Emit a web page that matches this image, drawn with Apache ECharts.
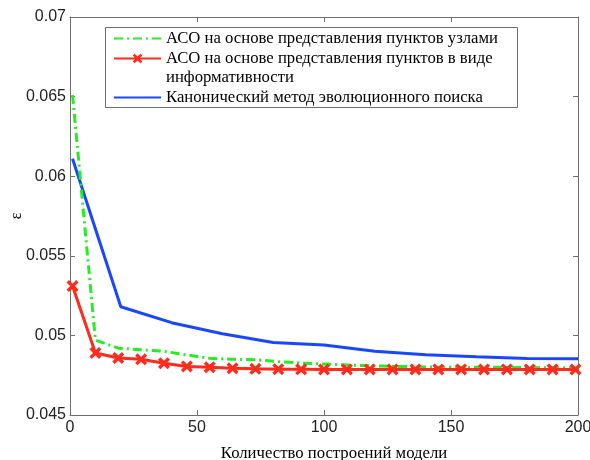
<!DOCTYPE html>
<html>
<head>
<meta charset="utf-8">
<script src="https://cdn.jsdelivr.net/npm/echarts@6/dist/echarts.min.js"></script>
<style>html,body{margin:0;padding:0;background:#fff;}#c{width:590px;height:460px;}</style>
</head>
<body>
<div id="c"></div>
<script>
// ---- data ----
const seriesNames = [
  'АСО на основе представления пунктов узлами',
  'АСО на основе представления пунктов в виде информативности',
  'Канонический метод эволюционного поиска'
];
const acoX = [1,10,19,28,37,46,55,64,73,82,91,100,109,118,127,136,145,154,163,172,181,190,199];
const greenY = [0.0651,0.0497,0.0492,0.0491,0.0490,0.04877,0.04856,0.0485,0.04847,0.04835,0.04826,0.0482,0.04814,0.0481,0.04806,0.04803,0.0480,0.0480,0.0480,0.04799,0.04798,0.04797,0.04797];
const redY = [0.0531,0.0489,0.04858,0.0485,0.04825,0.04805,0.0480,0.04793,0.0479,0.04788,0.04787,0.04786,0.04786,0.04786,0.04786,0.04786,0.04786,0.04786,0.04786,0.04786,0.04786,0.04786,0.04786];
const blueX = [1,20,40,60,80,100,120,140,160,180,200];
const blueY = [0.0611,0.0518,0.0508,0.0501,0.04955,0.0494,0.0490,0.04878,0.04866,0.04855,0.04853];
const xTicks = {min: 0, max: 200, step: 50};
const yTicks = {min: 0.045, max: 0.07, step: 0.005};
const xTitle = 'Количество построений модели';
const yTitle = 'ε';

const zip = (xs, ys) => xs.map((x, i) => [x, ys[i]]);
const GREEN = '#22EE22', RED = '#FF2B1C', BLUE = '#1947FF', AX = '#6e6e6e';
const tickFont = {fontFamily: 'Liberation Sans', fontSize: 16, color: '#222'};
const serif = 'Liberation Serif';
const XPATH = 'path://M2,0 L5,3 L8,0 L10,2 L7,5 L10,8 L8,10 L5,7 L2,10 L0,8 L3,5 L0,2 Z';
const NB = '\u00a0';
const hideSym = {color: 'rgba(0,0,0,0)', borderColor: 'rgba(0,0,0,0)', borderWidth: 0};

const chart = echarts.init(document.getElementById('c'), null, {renderer: 'canvas'});
const baseAxis = {
  axisLine: {show: true, onZero: false, lineStyle: {color: AX, width: 1}},
  axisTick: {show: true, inside: true, length: 5, lineStyle: {color: AX}},
  splitLine: {show: false}
};
chart.setOption({
  animation: false,
  backgroundColor: '#fff',
  grid: {left: 70, right: 12, top: 17, bottom: 45, containLabel: false, outerBoundsMode: 'none'},
  graphic: [{
    type: 'rect', z: 0, left: 105, top: 27,
    shape: {width: 412, height: 80},
    style: {fill: '#fff', stroke: AX, lineWidth: 1}
  }],
  legend: {
    orient: 'vertical', left: 113, top: 29, padding: 0, itemGap: -18,
    itemWidth: 47, itemHeight: 12, z: 10,
    textStyle: {fontFamily: serif, fontSize: 16.7, color: '#000', lineHeight: 19},
    data: [
      {name: seriesNames[0], itemStyle: hideSym},
      {name: seriesNames[1]},
      {name: seriesNames[2], itemStyle: hideSym}
    ],
    formatter: function (n) {
      if (n === seriesNames[1]) return NB + '\nАСО на основе представления пунктов в виде\nинформативности';
      if (n === seriesNames[2]) return NB + '\n' + n + '\n' + NB;
      return n;
    }
  },
  xAxis: [
    Object.assign({}, baseAxis, {
      type: 'value', position: 'bottom', min: xTicks.min, max: xTicks.max, interval: xTicks.step,
      axisLabel: Object.assign({margin: 5}, tickFont),
      name: xTitle, nameLocation: 'middle', nameGap: 30, nameMoveOverlap: false,
      nameTextStyle: {fontFamily: serif, fontSize: 16.7, color: '#000', padding: [0, 0, 0, 20]}
    }),
    Object.assign({}, baseAxis, {
      type: 'value', position: 'top', min: xTicks.min, max: xTicks.max, interval: xTicks.step,
      axisLabel: {show: false}
    })
  ],
  yAxis: [
    Object.assign({}, baseAxis, {
      type: 'value', position: 'left', min: yTicks.min, max: yTicks.max, interval: yTicks.step,
      axisLabel: Object.assign({margin: 4, formatter: v => String(+v.toFixed(3)), padding: [7, 0, 0, 0]}, tickFont),
      name: yTitle, nameLocation: 'middle', nameRotate: 90, nameGap: 45, nameMoveOverlap: false,
      nameTextStyle: {fontFamily: serif, fontSize: 16, color: '#000'}
    }),
    Object.assign({}, baseAxis, {
      type: 'value', position: 'right', min: yTicks.min, max: yTicks.max, interval: yTicks.step,
      axisLabel: {show: false}
    })
  ],
  series: [
    {
      name: seriesNames[0], type: 'line', data: zip(acoX, greenY),
      symbol: 'none', showSymbol: false, z: 3,
      lineStyle: {color: GREEN, width: 3, type: [9, 4, 2, 4]}, itemStyle: {color: GREEN}
    },
    {
      name: seriesNames[1], type: 'line', data: zip(acoX, redY),
      symbol: XPATH, symbolSize: 12, showSymbol: true, z: 4,
      lineStyle: {color: RED, width: 3}, itemStyle: {color: RED}
    },
    {
      name: seriesNames[2], type: 'line', data: zip(blueX, blueY),
      symbol: 'none', showSymbol: false, z: 2,
      lineStyle: {color: BLUE, width: 3}, itemStyle: {color: BLUE}
    }
  ]
});
</script>
</body>
</html>
